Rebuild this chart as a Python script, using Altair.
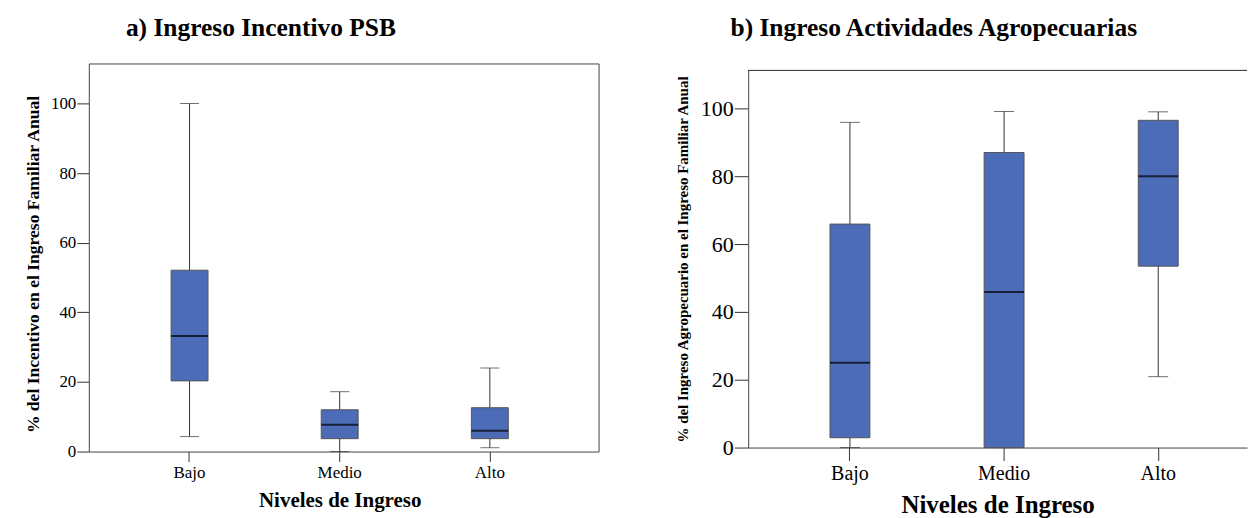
import altair as alt
import pandas as pd

cats = ["Bajo", "Medio", "Alto"]

# Panel a) Ingreso Incentivo PSB
a_min = [4.3, 0, 1.1]
a_q1 = [20.3, 3.7, 3.7]
a_med = [33.2, 7.7, 6.0]
a_q3 = [52.1, 12.0, 12.6]
a_max = [100, 17.2, 24.0]

# Panel b) Ingreso Actividades Agropecuarias
b_min = [0, 0, 20.9]
b_q1 = [2.9, 0, 53.5]
b_med = [25.0, 45.9, 80.0]
b_q3 = [65.9, 87.0, 96.5]
b_max = [95.9, 99.1, 99.0]

y_ticks = [0, 20, 40, 60, 80, 100]

FONT = "Liberation Serif"
BOX = "#4C6CB7"
LINE = "#333333"
FRAME = "#444444"


def panel(mins, q1s, meds, q3s, maxs, title, title_dx, ytitle,
          w, h, xscale, ymax, yrange, box_w, cap_w,
          lab_fs, ylab_fs, xtitle_fs, ytitle_fs, ytick, xtick, ytitle_pad,
          xtitle_pad, framed, ytitle_y):
    df = pd.DataFrame({"cat": cats, "lo": mins, "q1": q1s, "med": meds,
                       "q3": q3s, "hi": maxs})
    if yrange is None:
        yscale = alt.Scale(domain=[0, ymax], nice=False, zero=True)
    else:
        yscale = alt.Scale(domain=[0, ymax], nice=False, zero=True,
                           range=yrange)
    x = alt.X("cat:N", sort=cats, scale=xscale,
              axis=alt.Axis(title="Niveles de Ingreso", labelAngle=0,
                            domain=not framed, domainColor=FRAME,
                            tickSize=xtick, tickColor=LINE,
                            labelFont=FONT, labelFontSize=lab_fs,
                            labelColor="black", labelPadding=3,
                            titleFont=FONT, titleFontSize=xtitle_fs,
                            titleFontWeight="bold", titleColor="black",
                            titlePadding=xtitle_pad))
    yaxis = alt.Axis(title=ytitle, values=y_ticks, grid=False,
                     domain=not framed, domainColor=FRAME,
                     tickSize=ytick, tickColor=LINE, labelFont=FONT,
                     labelFontSize=ylab_fs,
                     labelColor="black", labelPadding=1,
                     titleFont=FONT, titleFontSize=ytitle_fs,
                     titleFontWeight="bold", titleColor="black",
                     titlePadding=ytitle_pad, titleY=ytitle_y)
    base = alt.Chart(df)
    whisk = base.mark_rule(color=LINE, strokeWidth=1).encode(
        x=x, y=alt.Y("lo:Q", scale=yscale, axis=yaxis), y2="hi:Q")
    cap_lo = base.mark_tick(color=LINE, size=cap_w, thickness=1).encode(
        x=x, y=alt.Y("lo:Q", scale=yscale))
    cap_hi = base.mark_tick(color=LINE, size=cap_w, thickness=1).encode(
        x=x, y=alt.Y("hi:Q", scale=yscale))
    box = base.mark_bar(size=box_w, color=BOX, stroke="#555555",
                        strokeWidth=1).encode(
        x=x, y=alt.Y("q1:Q", scale=yscale), y2="q3:Q")
    med = base.mark_tick(color="black", size=box_w, thickness=2).encode(
        x=x, y=alt.Y("med:Q", scale=yscale))
    layers = [whisk, cap_lo, cap_hi, box, med]
    if not framed:
        top = base.mark_rule(color=FRAME, strokeWidth=1).encode(
            y=alt.datum(ymax, scale=yscale))
        layers.append(top)
    view = alt.ViewBackground(stroke=FRAME if framed else "transparent",
                              strokeWidth=1)
    return alt.layer(*layers).properties(
        width=w, height=h, view=view,
        title=alt.TitleParams(text=title, font=FONT, fontSize=25.5,
                              fontWeight="bold", color="black",
                              anchor="middle", dx=title_dx,
                              offset=2, baseline="alphabetic"))


left = panel(a_min, a_q1, a_med, a_q3, a_max,
             "a) Ingreso Incentivo PSB", -83,
             "% del Incentivo en el Ingreso Familiar Anual",
             511, 389,
             alt.Scale(range=[0, 503], paddingInner=0, paddingOuter=0.171),
             111.5, None, 37, 19,
             17, 17, 21, 17.6, 12, 10, 8, 9, True, 201)

right = panel(b_min, b_q1, b_med, b_q3, b_max,
              "b) Ingreso Actividades Agropecuarias", -64,
              "% del Ingreso Agropecuario en el Ingreso Familiar Anual",
              500, 385,
              alt.Scale(range=[0, 500], paddingInner=0, paddingOuter=0.118,
                        align=0.678),
              111.2, [385, 7], 40, 20,
              20, 22, 25, 15, 14, 13, 10, 9, False, 196)

chart = alt.hconcat(left, right, spacing=75).properties(
    padding={"top": 7, "left": 16, "right": 0, "bottom": 0}
).configure(background="white")

chart.save("out.html", embed_options={"renderer": "svg", "actions": False})
